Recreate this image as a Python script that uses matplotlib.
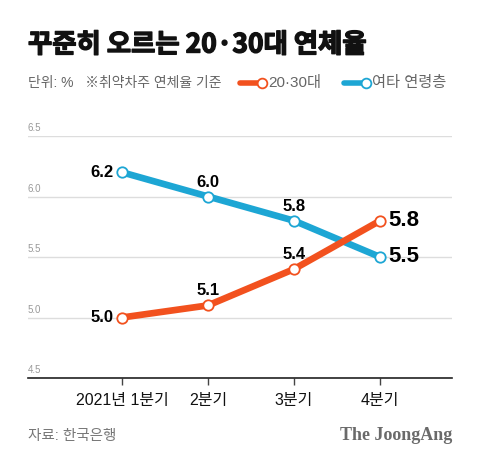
import matplotlib
matplotlib.use('Agg')
import matplotlib.pyplot as plt
import matplotlib.patheffects as pe
from matplotlib.lines import Line2D

plt.rcParams['font.family'] = ['Liberation Sans', 'Noto Sans CJK KR']

# data
quarters = ['2021년 1분기', '2분기', '3분기', '4분기']
young = [5.0, 5.1, 5.4, 5.8]      # 20·30대
others = [6.2, 6.0, 5.8, 5.5]     # 여타 연령층
yticks = [4.5, 5.0, 5.5, 6.0, 6.5]

orange = '#F2511E'
blue = '#1DA6D4'

W, H = 480, 470
fig = plt.figure(figsize=(4.8, 4.7), dpi=100)
fig.patch.set_facecolor('white')

# axes box in pixels: left 28, right 452, top 136 (6.5), bottom 378 (4.5)
ax = fig.add_axes([28 / W, 1 - 378 / H, (452 - 28) / W, (378 - 136) / H])
x = list(range(len(quarters)))

ax.plot(x, others, color=blue, lw=4.8, solid_capstyle='round', zorder=3,
        marker='o', ms=7.5, mfc='white', mec=blue, mew=1.3)
ax.plot(x, young, color=orange, lw=4.8, solid_capstyle='round', zorder=4,
        marker='o', ms=7.5, mfc='white', mec=orange, mew=1.3)

ax.set_xlim(-1.093, 3.837)
ax.set_ylim(4.5, 6.5)
ax.set_yticks(yticks)
ax.set_yticklabels([])
ax.grid(axis='y', color='#dddddd', lw=1)
ax.set_axisbelow(True)
for s in ['top', 'right', 'left']:
    ax.spines[s].set_visible(False)
ax.spines['bottom'].set_color('#222222')
ax.spines['bottom'].set_linewidth(1.2)
ax.tick_params(axis='y', length=0)
ax.set_xticks(x)
ax.set_xticklabels(quarters, fontsize=11.5, color='#111111')
ax.tick_params(axis='x', length=5, width=1, color='#444444', pad=6)

# y tick labels sitting above grid lines
for v in yticks:
    ax.annotate(f'{v:.1f}', (-1.093, v), xytext=(0, 2), textcoords='offset points',
                fontsize=7, color='#999999', ha='left', va='bottom')

# point labels
def lab(xi, yi, txt, where, big=False):
    fs = 16 if big else 12
    if where == 'left':
        ax.annotate(txt, (xi, yi), xytext=(-6, 0), textcoords='offset points',
                    ha='right', va='center', fontsize=fs, fontweight='bold')
    elif where == 'right':
        ax.annotate(txt, (xi, yi), xytext=(6, 0), textcoords='offset points',
                    ha='left', va='center', fontsize=fs, fontweight='bold')
    else:
        ax.annotate(txt, (xi, yi), xytext=(0, 5), textcoords='offset points',
                    ha='center', va='bottom', fontsize=fs, fontweight='bold')

pos_o = ['left', 'above', 'above', 'right']
pos_y = ['left', 'above', 'above', 'right']
for i in x:
    lab(i, others[i], f'{others[i]:.1f}', pos_o[i], big=(i == 3))
    lab(i, young[i], f'{young[i]:.1f}', pos_y[i], big=(i == 3))

# title and notes
fig.text(28 / W, 1 - 45 / H, '꾸준히 오르는 20·30대 연체율', fontsize=19,
         fontweight='black', ha='left', va='center', color='#111111',
         family=['Noto Sans CJK KR'],
         path_effects=[pe.withStroke(linewidth=1.0, foreground='#111111')])
fig.text(28 / W, 1 - 83 / H, '단위: %   ※취약차주 연체율 기준', fontsize=10,
         ha='left', va='center', color='#666666')

# legend
for x0, col, txt in [(240, orange, '20·30대'), (344, blue, '여타 연령층')]:
    fig.add_artist(Line2D([x0 / W, (x0 + 19) / W], [1 - 83 / H, 1 - 83 / H],
                          color=col, lw=4, solid_capstyle='round'))
    fig.add_artist(Line2D([(x0 + 22) / W], [1 - 83 / H], marker='o', ms=7,
                          mfc='white', mec=col, mew=1.3))
    fig.text((x0 + 28) / W, 1 - 83 / H, txt, fontsize=11, ha='left',
             va='center', color='#666666')

# footer
fig.text(28 / W, 1 - 436 / H, '자료: 한국은행', fontsize=10.5, ha='left',
         va='center', color='#777777')
fig.text(452 / W, 1 - 436 / H, 'The JoongAng', fontsize=13, ha='right',
         va='center', color='#6a6a6a', fontweight='bold', family='Liberation Serif')

fig.savefig('out.png', dpi=100, facecolor='white')
